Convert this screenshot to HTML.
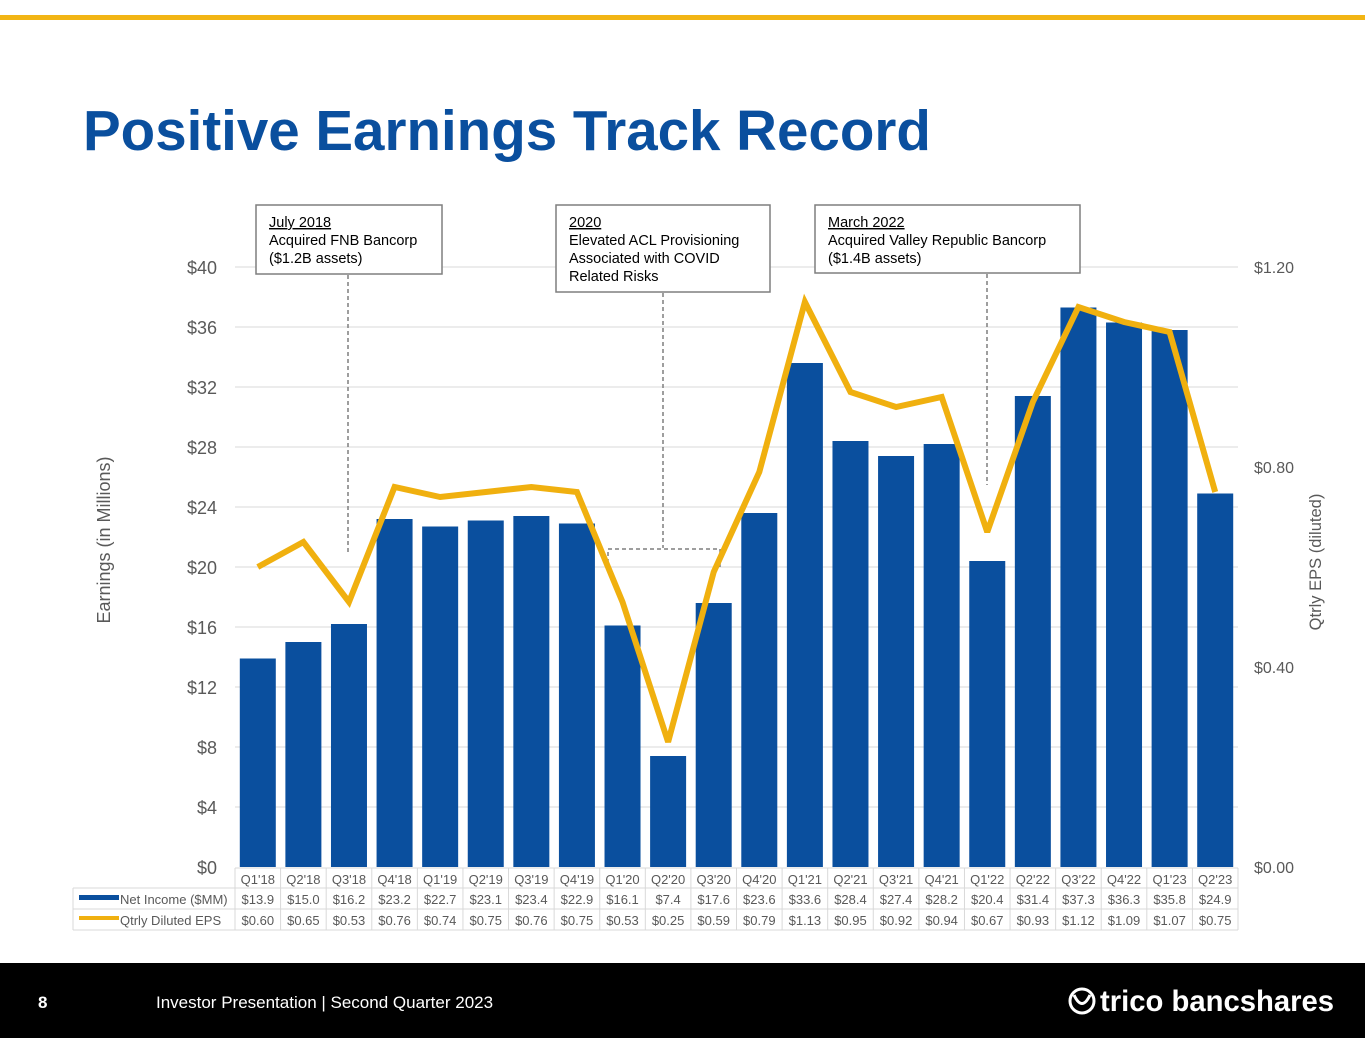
<!DOCTYPE html>
<html><head><meta charset="utf-8"><style>
body{margin:0;width:1365px;height:1055px;overflow:hidden;background:#fff;font-family:"Liberation Sans",Arial,sans-serif}
svg text{font-family:"Liberation Sans",Arial,sans-serif}
</style></head><body>
<svg id="s" width="1365" height="1055" viewBox="0 0 1365 1055">
<rect x="0" y="15" width="1365" height="5" fill="#f2b514"/>
<text x="83" y="150" font-size="56.5" font-weight="bold" fill="#0a4f9e">Positive Earnings Track Record</text>
<g id="grid"></g><g id="bars"></g><g id="annot"></g><g id="line"></g><g id="axes"></g><g id="table"></g>
<text transform="translate(110,540) rotate(-90)" text-anchor="middle" font-size="18" fill="#595959">Earnings (in Millions)</text>
<text transform="translate(1321,562) rotate(-90)" text-anchor="middle" font-size="16.5" fill="#595959">Qtrly EPS (diluted)</text>
<rect x="0" y="963" width="1365" height="75" fill="#000"/>
<text x="38" y="1008" font-size="17" font-weight="bold" fill="#fff">8</text>
<text x="156" y="1008" font-size="17" fill="#fff">Investor Presentation | Second Quarter 2023</text>
<g>
<circle cx="1082" cy="1001" r="12" fill="none" stroke="#fff" stroke-width="3"/>
<path d="M1074 995 Q1082 1012 1090 995" fill="none" stroke="#fff" stroke-width="3"/>
<text x="1100" y="1011" font-size="30" font-weight="bold" fill="#fff" textLength="234" lengthAdjust="spacingAndGlyphs">trico bancshares</text>
</g>
</svg>
<script>
const categories=["Q1'18","Q2'18","Q3'18","Q4'18","Q1'19","Q2'19","Q3'19","Q4'19","Q1'20","Q2'20","Q3'20","Q4'20","Q1'21","Q2'21","Q3'21","Q4'21","Q1'22","Q2'22","Q3'22","Q4'22","Q1'23","Q2'23"];
const netIncome=[13.9,15.0,16.2,23.2,22.7,23.1,23.4,22.9,16.1,7.4,17.6,23.6,33.6,28.4,27.4,28.2,20.4,31.4,37.3,36.3,35.8,24.9];
const eps=[0.60,0.65,0.53,0.76,0.74,0.75,0.76,0.75,0.53,0.25,0.59,0.79,1.13,0.95,0.92,0.94,0.67,0.93,1.12,1.09,1.07,0.75];
const leftTicks=[0,4,8,12,16,20,24,28,32,36,40];
const rightTicks=[0,0.4,0.8,1.2];
const NS="http://www.w3.org/2000/svg";
const X0=235,X1=1238,Y0=867,Y1=267;
const bw=(X1-X0)/categories.length;
const yL=v=>Y0-(v/40)*(Y0-Y1);
const yR=v=>Y0-(v/1.2)*(Y0-Y1);
const xC=i=>X0+bw*(i+0.5);
function mk(tag,attrs,parent,txt){const e=document.createElementNS(NS,tag);for(const k in attrs)e.setAttribute(k,attrs[k]);if(txt!==undefined)e.textContent=txt;document.getElementById(parent).appendChild(e);return e;}
leftTicks.forEach(t=>{
 if(t>0){const g=mk('line',{x1:X0,x2:X1,y1:yL(t),y2:yL(t),stroke:'#d9d9d9','stroke-width':1},'grid');
 
 }
 const l=mk('text',{x:217,y:yL(t)+7,'text-anchor':'end','font-size':18,fill:'#595959'},'axes','$'+t);
 
 
});
rightTicks.forEach(t=>{
 const l=mk('text',{x:1254,y:yR(t)+6,'font-size':16,fill:'#595959'},'axes','$'+t.toFixed(2));
 
 
});
netIncome.forEach((v,i)=>{
 const b=mk('rect',{x:xC(i)-18,y:yL(v),width:36,height:Y0-yL(v),fill:'#0a4f9e'},'bars');
 
 
});
const pts=eps.map((v,i)=>xC(i)+','+yR(v)).join(' ');
const pl=mk('polyline',{points:pts,fill:'none',stroke:'#f0b00f','stroke-width':6,'stroke-linejoin':'miter','stroke-miterlimit':3},'line');


const A=[
 {x:256,y:205,w:186,h:69,lines:["July 2018","Acquired FNB Bancorp","($1.2B assets)"],path:"M348 275 V553"},
 {x:556,y:205,w:214,h:87,lines:["2020","Elevated ACL Provisioning","Associated with COVID","Related Risks"],path:"M663 293 V548 M608 570 V549 H720 V570"},
 {x:815,y:205,w:265,h:68,lines:["March 2022","Acquired Valley Republic Bancorp","($1.4B assets)"],path:"M987 274 V485"}];
A.forEach((a,k)=>{
 const p=mk('path',{d:a.path,fill:'none',stroke:'#7f7f7f','stroke-width':1.5,'stroke-dasharray':'4,3'},'annot');
 
 
 const r=mk('rect',{x:a.x,y:a.y,width:a.w,height:a.h,fill:'#fff',stroke:'#7f7f7f','stroke-width':1.5},'annot');
 
 
 a.lines.forEach((s,j)=>{
  const t=mk('text',{x:a.x+13,y:a.y+22+j*18,'font-size':14.5,fill:'#000','text-decoration':j==0?'underline':'none'},'annot',s);
  
  
 });
});
const TL=73,R1=868,R2=888,R3=909,R4=930;
[[X0,R1,X1,R1],[TL,R2,X1,R2],[TL,R3,X1,R3],[TL,R4,X1,R4],[TL,R2,TL,R4],[X1,R1,X1,R4]].forEach(c=>{
 const l=mk('line',{x1:c[0],y1:c[1],x2:c[2],y2:c[3],stroke:'#d9d9d9'},'table');
 
 
});
for(let i=0;i<=categories.length;i++){const x=X0+bw*i;
 const l=mk('line',{x1:x,y1:R1,x2:x,y2:R4,stroke:'#d9d9d9'},'table');
 
 }
categories.forEach((c,i)=>{
 const t1=mk('text',{x:xC(i),y:884,'text-anchor':'middle','font-size':13,fill:'#595959'},'table',c);
 
 
 const t2=mk('text',{x:xC(i),y:904,'text-anchor':'middle','font-size':13,fill:'#595959'},'table','$'+netIncome[i].toFixed(1));
 
 
 const t3=mk('text',{x:xC(i),y:925,'text-anchor':'middle','font-size':13,fill:'#595959'},'table','$'+eps[i].toFixed(2));
 
 
});
const k1=mk('rect',{x:79,y:895,width:40,height:5,fill:'#0a4f9e'},'table');


const k2=mk('rect',{x:79,y:916,width:40,height:4,fill:'#f0b00f'},'table');


const n1=mk('text',{x:120,y:904,'font-size':13,fill:'#595959'},'table','Net Income ($MM)');


const n2=mk('text',{x:120,y:925,'font-size':13,fill:'#595959'},'table','Qtrly Diluted EPS');


</script>
</body></html>
